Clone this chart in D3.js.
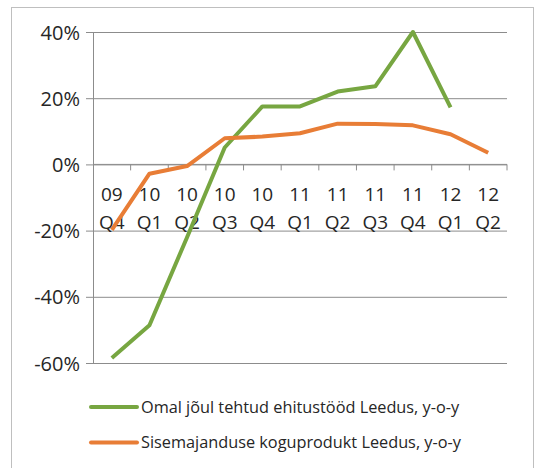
<!DOCTYPE html>
<html>
<head>
<meta charset="utf-8">
<script src="https://cdn.jsdelivr.net/npm/d3@7"></script>
<style>
  body { margin: 0; background: #fff; }
  text { font-family: "Open Sans", sans-serif; fill: #262626; }
</style>
</head>
<body>
<div id="chart"></div>
<script>
var quarters = ["09 Q4", "10 Q1", "10 Q2", "10 Q3", "10 Q4", "11 Q1", "11 Q2", "11 Q3", "11 Q4", "12 Q1", "12 Q2"];
var construction = [-58.5, -48.6, -22, 5.1, 17.5, 17.5, 22, 23.6, 40, 17.2, null];
var gdp = [-19.8, -2.8, -0.5, 7.9, 8.4, 9.4, 12.3, 12.2, 11.8, 9.1, 3.5];
var yTicks = [40, 20, 0, -20, -40, -60];
var seriesNames = ["Omal jõul tehtud ehitustööd Leedus, y-o-y", "Sisemajanduse koguprodukt Leedus, y-o-y"];
var colors = ["#77a641", "#e87d36"];

var svgWidth = 536, svgHeight = 468;
var margin = { top: 32, left: 93, right: 29, bottom: 105 };
var width = svgWidth - margin.left - margin.right;
var height = svgHeight - margin.top - margin.bottom;

var svg = d3.select("#chart").append("svg")
  .attr("width", svgWidth)
  .attr("height", svgHeight);

// outer frame
svg.append("rect")
  .attr("x", 11.5).attr("y", 7.5)
  .attr("width", 522).attr("height", 470)
  .attr("fill", "none").attr("stroke", "#bfbfbf");

var g = svg.append("g")
  .attr("transform", "translate(" + margin.left + "," + margin.top + ")");

var x = d3.scaleBand().domain(quarters).range([0, width]);
var y = d3.scaleLinear().domain([-60, 40]).range([height, 0]);

// gridlines + y labels
g.append("g")
  .call(d3.axisLeft(y).tickValues(yTicks).tickSize(-width).tickSizeOuter(0)
    .tickFormat(function (d) { return d + "%"; }))
  .call(function (a) {
    a.select(".domain").remove();
    a.selectAll("line").attr("stroke", "#8c8c8c").attr("x1", -7);
    a.selectAll("text").attr("x", -13).attr("dy", "0.35em")
      .style("font-size", "20px").attr("fill", "#262626");
  });

// vertical axis line
g.append("line")
  .attr("x1", 0.5).attr("x2", 0.5)
  .attr("y1", 0).attr("y2", height)
  .attr("stroke", "#8c8c8c");

// x axis at 0 with ticks at category boundaries
var xAxis = g.append("g").attr("transform", "translate(0," + y(0) + ")");
xAxis.append("line")
  .attr("x1", 0).attr("x2", width)
  .attr("stroke", "#8c8c8c");
xAxis.selectAll(".tk")
  .data(quarters)
  .enter().append("line")
  .attr("x1", function (d) { return x(d) + x.bandwidth(); })
  .attr("x2", function (d) { return x(d) + x.bandwidth(); })
  .attr("y1", 0).attr("y2", 6)
  .attr("stroke", "#8c8c8c");

var lbl = xAxis.selectAll(".lbl")
  .data(quarters)
  .enter().append("text")
  .attr("text-anchor", "middle")
  .style("font-size", "19px");
lbl.append("tspan")
  .attr("x", function (d) { return x(d) + x.bandwidth() / 2; })
  .attr("y", 37)
  .text(function (d) { return d.split(" ")[0]; });
lbl.append("tspan")
  .attr("x", function (d) { return x(d) + x.bandwidth() / 2; })
  .attr("y", 65)
  .text(function (d) { return d.split(" ")[1]; });

var line = d3.line()
  .defined(function (d) { return d != null; })
  .x(function (d, i) { return x(quarters[i]) + x.bandwidth() / 2; })
  .y(function (d) { return y(d); });

[construction, gdp].forEach(function (s, i) {
  g.append("path")
    .datum(s)
    .attr("d", line)
    .attr("fill", "none")
    .attr("stroke", colors[i])
    .attr("stroke-width", 4)
    .attr("stroke-linejoin", "round");
});

// legend
var legend = svg.append("g");
seriesNames.forEach(function (name, i) {
  var ly = 407 + i * 35.5;
  legend.append("line")
    .attr("x1", 91).attr("x2", 137)
    .attr("y1", ly).attr("y2", ly)
    .attr("stroke", colors[i]).attr("stroke-width", 4)
    .attr("stroke-linecap", "round");
  legend.append("text")
    .attr("x", 141).attr("y", ly).attr("dy", "0.35em")
    .style("font-size", "16.3px")
    .text(name);
});
</script>
</body>
</html>
